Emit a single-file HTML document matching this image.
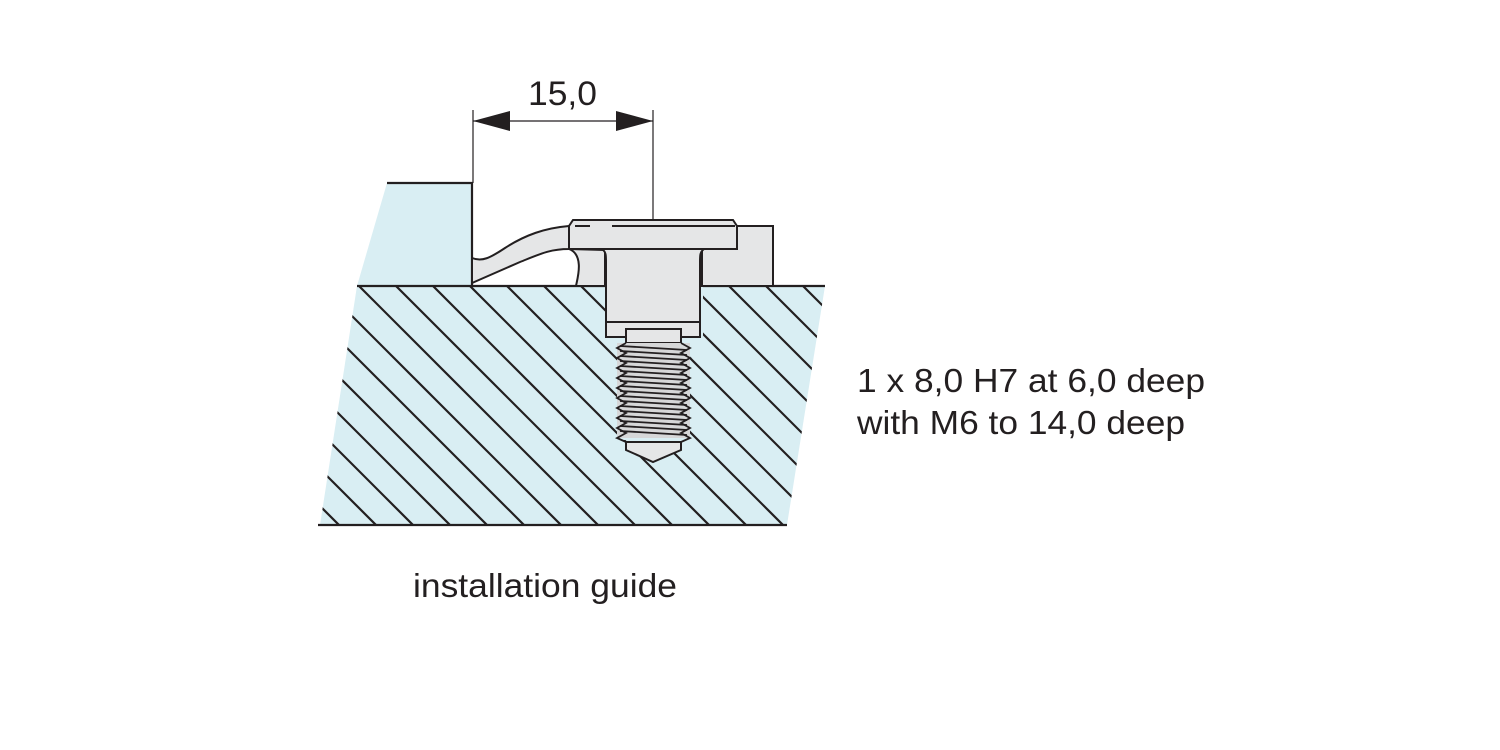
<!DOCTYPE html>
<html><head><style>
body{margin:0;background:#fff;}
svg{display:block}
text{font-family:"Liberation Sans",sans-serif;fill:#231f20}
</style></head><body>
<svg width="1500" height="750" viewBox="0 0 1500 750" xmlns="http://www.w3.org/2000/svg">
<defs>
<clipPath id="base"><polygon points="357,286 825,286 787,525 320,525"/></clipPath>
</defs>
<polygon points="387,183 472,183 472,286 357,286" fill="#d9eef3"/>
<polyline points="387,183 472,183 472,286" fill="none" stroke="#231f20" stroke-width="2.2"/>
<polygon points="357,286 825,286 787,525 320,525" fill="#d9eef3"/>
<g clip-path="url(#base)" stroke="#231f20" stroke-width="2.2">
<line x1="100" y1="286" x2="360" y2="546"/>
<line x1="137" y1="286" x2="397" y2="546"/>
<line x1="174" y1="286" x2="434" y2="546"/>
<line x1="211" y1="286" x2="471" y2="546"/>
<line x1="248" y1="286" x2="508" y2="546"/>
<line x1="285" y1="286" x2="545" y2="546"/>
<line x1="322" y1="286" x2="582" y2="546"/>
<line x1="359" y1="286" x2="619" y2="546"/>
<line x1="396" y1="286" x2="656" y2="546"/>
<line x1="433" y1="286" x2="693" y2="546"/>
<line x1="470" y1="286" x2="730" y2="546"/>
<line x1="507" y1="286" x2="767" y2="546"/>
<line x1="544" y1="286" x2="804" y2="546"/>
<line x1="581" y1="286" x2="841" y2="546"/>
<line x1="618" y1="286" x2="878" y2="546"/>
<line x1="655" y1="286" x2="915" y2="546"/>
<line x1="692" y1="286" x2="952" y2="546"/>
<line x1="729" y1="286" x2="989" y2="546"/>
<line x1="766" y1="286" x2="1026" y2="546"/>
<line x1="803" y1="286" x2="1063" y2="546"/>
</g>
<line x1="357" y1="286" x2="825" y2="286" stroke="#231f20" stroke-width="2.2"/>
<line x1="318" y1="525" x2="787" y2="525" stroke="#231f20" stroke-width="2.2"/>
<polygon points="605,286 703,286 703,338 690,338 690,440 681,440 653,462 626,440 617,440 617,338 605,338" fill="#d9eef3"/>
<path d="M472,258 C482,262 490,258 505,248 C525,235 545,228 569,226 L569,249 C550,249 540,254 520,262 L472,283 Z" fill="#e5e6e7" stroke="#231f20" stroke-width="2"/>
<path d="M569,249 C585,255 577,280 576,286 L605,286 L605,250 Z" fill="#e5e6e7" stroke="#231f20" stroke-width="2"/>
<rect x="702" y="226" width="71" height="60" fill="#e5e6e7" stroke="#231f20" stroke-width="2"/>
<polygon points="573,220 733,220 737,226 737,249 569,249 569,226" fill="#e5e6e7" stroke="#231f20" stroke-width="2"/>
<line x1="575" y1="226" x2="590" y2="226" stroke="#231f20" stroke-width="2"/>
<line x1="612" y1="226" x2="735" y2="226" stroke="#231f20" stroke-width="2"/>
<path d="M602,249 C606,252 606,255 606,262 L606,322 L700,322 L700,262 C700,255 700,252 704,249 Z" fill="#e5e6e7" stroke="#231f20" stroke-width="2"/>
<rect x="606" y="322" width="94" height="15" fill="#e5e6e7" stroke="#231f20" stroke-width="2"/>
<rect x="626" y="329" width="55" height="14" fill="#e5e6e7" stroke="#231f20" stroke-width="2"/>
<rect x="617" y="343" width="73" height="95" fill="#d6d7d8"/>
<g stroke="#231f20" stroke-width="1.8" fill="none">
<polyline points="626,343 617,348 626,353 617,358 626,363 617,368 626,373 617,378 626,383 617,388 626,393 617,398 626,403 617,408 626,413 617,418 626,423 617,428 626,433 617,438 626,442"/>
<polyline points="681,343 690,348 681,353 690,358 681,363 690,368 681,373 690,378 681,383 690,388 681,393 690,398 681,403 690,408 681,413 690,418 681,423 690,428 681,433 690,438 681,442"/>
<line x1="620" y1="346" x2="687" y2="350"/><line x1="620" y1="351" x2="687" y2="355"/>
<line x1="620" y1="356" x2="687" y2="360"/><line x1="620" y1="361" x2="687" y2="365"/>
<line x1="620" y1="366" x2="687" y2="370"/><line x1="620" y1="371" x2="687" y2="375"/>
<line x1="620" y1="376" x2="687" y2="380"/><line x1="620" y1="381" x2="687" y2="385"/>
<line x1="620" y1="386" x2="687" y2="390"/><line x1="620" y1="391" x2="687" y2="395"/>
<line x1="620" y1="396" x2="687" y2="400"/><line x1="620" y1="401" x2="687" y2="405"/>
<line x1="620" y1="406" x2="687" y2="410"/><line x1="620" y1="411" x2="687" y2="415"/>
<line x1="620" y1="416" x2="687" y2="420"/><line x1="620" y1="421" x2="687" y2="425"/>
<line x1="620" y1="426" x2="687" y2="430"/><line x1="620" y1="431" x2="687" y2="435"/>
</g>
<path d="M626,442 L681,442 L681,450 L653,462 L626,450 Z" fill="#e5e6e7" stroke="#231f20" stroke-width="2"/>
<line x1="473" y1="110" x2="473" y2="183" stroke="#231f20" stroke-width="1.2"/>
<line x1="653" y1="110" x2="653" y2="220" stroke="#231f20" stroke-width="1.2"/>
<line x1="473" y1="121" x2="653" y2="121" stroke="#231f20" stroke-width="1.2"/>
<polygon points="473,121 510,111 510,131" fill="#231f20"/>
<polygon points="653,121 616,111 616,131" fill="#231f20"/>
<text x="528" y="105" font-size="34" textLength="69" lengthAdjust="spacingAndGlyphs">15,0</text>
<text x="857" y="392" font-size="33" textLength="348" lengthAdjust="spacingAndGlyphs">1 x 8,0 H7 at 6,0 deep</text>
<text x="857" y="434" font-size="33" textLength="328" lengthAdjust="spacingAndGlyphs">with M6 to 14,0 deep</text>
<text x="413" y="597" font-size="33" textLength="264" lengthAdjust="spacingAndGlyphs">installation guide</text>
</svg>
</body></html>
